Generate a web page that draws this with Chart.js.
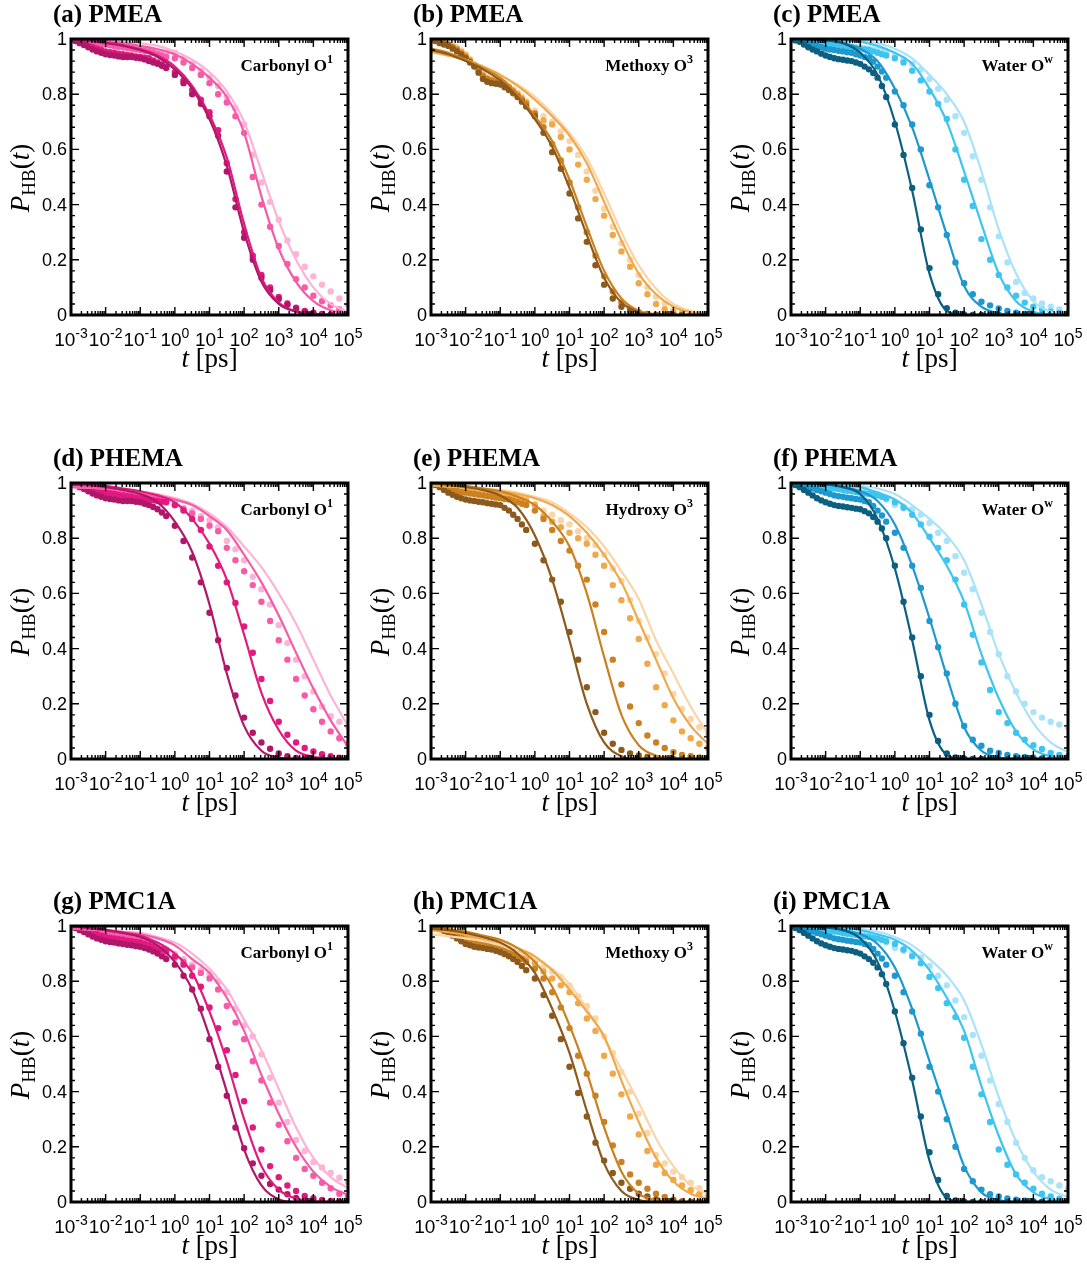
<!DOCTYPE html>
<html>
<head>
<meta charset="utf-8">
<script src="https://cdn.jsdelivr.net/npm/chart.js@4.4.0/dist/chart.umd.min.js"></script>
<style>
  html, body { margin: 0; padding: 0; background: #fff; overflow: hidden; }
  #grid { position: relative; width: 1087px; height: 1268px; }
  #grid canvas { position: absolute; }
</style>
</head>
<body>
<div id="grid"></div>
<script>
// log10(t): simulated points (denser at short times) and fitted curves
const logTDots = [-3, -2.875, -2.75, -2.625, -2.5, -2.375, -2.25, -2.125, -2, -1.875, -1.75, -1.625, -1.5, -1.375, -1.25, -1.125, -1, -0.875, -0.75, -0.625, -0.5, -0.375, -0.25,
  0, 0.25, 0.5, 0.75, 1, 1.25, 1.5, 1.75, 2, 2.25, 2.5, 2.75, 3, 3.25, 3.5, 3.75, 4, 4.25, 4.5, 4.75, 5];
const logTFit = [-3, -2.5, -2, -1.5, -1, -0.5, 0, 0.5, 1, 1.5, 2, 2.5, 3, 3.5, 4, 4.5, 5];

const xTickExps = [-3, -2, -1, 0, 1, 2, 3, 4, 5];
const yTickLabels = ['0', '0.2', '0.4', '0.6', '0.8', '1'];

const panelTitles = ['(a) PMEA', '(b) PMEA', '(c) PMEA', '(d) PHEMA', '(e) PHEMA', '(f) PHEMA', '(g) PMC1A', '(h) PMC1A', '(i) PMC1A'];
const siteNames = ['Carbonyl O', 'Methoxy O', 'Water O', 'Carbonyl O', 'Hydroxy O', 'Water O', 'Carbonyl O', 'Methoxy O', 'Water O'];
const siteSups = ['1', '3', 'w', '1', '3', 'w', '1', '3', 'w'];

const pink = ['#b0176a', '#e2197f', '#f75aa8', '#fcb3d6'];
const orange = ['#8c5a1c', '#cc8120', '#f0a848', '#f9d5a8'];
const blue = ['#0c5f80', '#1d99cf', '#3ec4f0', '#a9e3f9'];

// (a) PMEA carbonyl
const dotsA = [
  [1, .993, .985, .978, .97, .962, .955, .95, .945, .942, .94, .937, .935, .935, .935, .932, .93, .926, .92, .915, .91, .903, .895,
   .87, .84, .80, .765, .72, .65, .52, .39, .28, .2, .135, .09, .058, .037, .022, .012, .006, .003, .001, 0, 0],
  [1, .995, .99, .982, .975, .97, .965, .96, .955, .952, .95, .947, .945, .942, .94, .937, .935, .933, .93, .922, .915, .908, .9,
   .88, .85, .815, .78, .735, .67, .55, .42, .3, .215, .145, .1, .065, .042, .026, .015, .008, .004, .002, 0, 0],
  [1, .998, .995, .992, .99, .987, .985, .982, .98, .977, .975, .972, .97, .967, .965, .962, .96, .957, .955, .95, .945, .94, .935,
   .93, .915, .895, .87, .84, .8, .77, .72, .66, .5, .4, .32, .25, .185, .13, .1, .07, .05, .035, .02, .008],
  [1, .998, .995, .992, .99, .987, .985, .982, .98, .977, .975, .972, .97, .97, .97, .967, .965, .962, .96, .957, .955, .952, .95,
   .95, .93, .91, .885, .86, .83, .79, .75, .69, .58, .48, .41, .345, .27, .22, .175, .14, .11, .085, .06, .035]
];
const fitA = [
  [1, .995, .985, .975, .96, .935, .89, .82, .71, .54, .30, .12, .04, .012, .003, 0, 0],
  [1, .995, .987, .978, .963, .94, .9, .83, .725, .57, .33, .135, .045, .013, .003, 0, 0],
  [1, .998, .993, .985, .975, .963, .945, .91, .86, .79, .66, .43, .24, .12, .05, .017, .005],
  [1, .998, .995, .99, .985, .975, .955, .925, .88, .81, .7, .52, .34, .2, .1, .04, .012]
];

// (b) PMEA methoxy
const dotsB = [
  [1, .993, .985, .98, .975, .965, .955, .943, .93, .915, .9, .878, .855, .845, .84, .838, .835, .825, .815, .803, .79, .773, .755,
   .72, .66, .59, .53, .44, .35, .265, .18, .11, .06, .03, .014, .006, .002, 0, 0, 0, 0, 0, 0, 0],
  [1, .995, .99, .985, .98, .97, .96, .948, .935, .92, .905, .885, .865, .855, .85, .845, .84, .83, .82, .808, .795, .78, .765,
   .73, .68, .62, .56, .48, .39, .3, .215, .14, .085, .045, .022, .01, .004, .001, 0, 0, 0, 0, 0, 0],
  [1, .995, .99, .985, .98, .973, .965, .953, .94, .923, .905, .888, .87, .857, .85, .848, .845, .835, .825, .813, .8, .785, .77,
   .73, .705, .69, .645, .6, .545, .49, .42, .36, .29, .23, .175, .115, .075, .04, .02, .01, .005, .002, 0, 0],
  [1, .995, .99, .985, .98, .975, .97, .958, .945, .928, .91, .893, .875, .862, .855, .853, .85, .84, .83, .818, .805, .79, .775,
   .74, .72, .7, .665, .63, .58, .52, .45, .385, .32, .26, .2, .145, .1, .065, .04, .022, .012, .006, .003, .001]
];
const fitB = [
  [.96, .945, .92, .89, .85, .79, .71, .61, .46, .29, .135, .045, .01, .002, 0, 0, 0],
  [.965, .95, .925, .895, .86, .8, .72, .63, .49, .32, .16, .06, .015, .003, 0, 0, 0],
  [.955, .94, .925, .9, .87, .83, .78, .72, .65, .55, .41, .27, .15, .075, .03, .01, .003],
  [.95, .94, .925, .9, .87, .835, .79, .73, .66, .57, .44, .3, .18, .095, .04, .015, .005]
];

// (c) PMEA water
const dotsC = [
  [1, .995, .99, .98, .97, .962, .955, .947, .94, .935, .93, .927, .925, .922, .92, .915, .91, .9, .89, .877, .86, .83, .79,
   .69, .58, .46, .31, .17, .075, .025, .008, .002, 0, 0, 0, 0, 0, 0, 0, 0, 0, 0, 0, 0],
  [1, .998, .995, .99, .985, .98, .975, .97, .965, .962, .96, .957, .955, .952, .95, .945, .94, .935, .93, .918, .9, .882, .86,
   .81, .76, .69, .6, .47, .39, .29, .19, .115, .075, .048, .035, .024, .015, .008, .004, .002, 0, 0, 0, 0],
  [1, .999, .998, .997, .995, .993, .99, .988, .985, .982, .98, .978, .975, .972, .97, .967, .965, .962, .96, .955, .95, .945, .94,
   .93, .915, .885, .85, .81, .765, .71, .6, .49, .395, .275, .2, .145, .1, .07, .045, .03, .02, .012, .007, .004],
  [1, .999, .998, .997, .996, .995, .994, .992, .99, .988, .985, .982, .98, .978, .975, .972, .97, .967, .965, .962, .96, .955, .95,
   .94, .925, .91, .89, .855, .82, .78, .72, .66, .575, .49, .39, .285, .19, .12, .08, .06, .042, .03, .02, .01]
];
const fitC = [
  [1, .998, .995, .985, .95, .87, .7, .45, .15, .015, 0, 0, 0, 0, 0, 0, 0],
  [1, .998, .995, .985, .965, .92, .82, .68, .49, .29, .105, .03, .006, 0, 0, 0, 0],
  [1, .999, .998, .995, .99, .975, .95, .91, .82, .7, .52, .33, .15, .05, .012, .002, 0],
  [1, .999, .998, .997, .995, .985, .965, .93, .87, .8, .7, .52, .31, .15, .05, .012, .002]
];

// (d) PHEMA carbonyl
const dotsD = [
  [1, .993, .985, .978, .97, .962, .955, .95, .945, .942, .94, .937, .935, .935, .935, .932, .93, .925, .92, .913, .905, .893, .88,
   .845, .79, .73, .64, .53, .43, .33, .23, .15, .095, .06, .037, .02, .01, .004, .001, 0, 0, 0, 0, 0],
  [1, .995, .99, .985, .98, .975, .97, .967, .965, .962, .96, .957, .955, .952, .95, .947, .945, .942, .94, .937, .935, .932, .93,
   .92, .9, .87, .83, .77, .7, .64, .565, .48, .385, .29, .21, .135, .088, .06, .04, .027, .017, .01, .005, .002],
  [1, .998, .995, .992, .99, .987, .985, .982, .98, .977, .975, .972, .97, .967, .965, .962, .96, .957, .955, .95, .945, .94, .935,
   .92, .905, .89, .87, .845, .825, .765, .72, .68, .63, .57, .5, .43, .36, .29, .23, .18, .135, .1, .075, .055],
  [1, .998, .995, .992, .99, .987, .985, .982, .98, .977, .975, .972, .97, .967, .965, .962, .96, .957, .955, .952, .95, .945, .94,
   .93, .91, .9, .88, .865, .84, .79, .76, .72, .66, .615, .56, .485, .42, .36, .3, .245, .19, .155, .135, .117]
];
const fitD = [
  [1, .993, .985, .975, .96, .93, .86, .75, .56, .31, .12, .03, .005, 0, 0, 0, 0],
  [1, .995, .99, .98, .97, .955, .93, .87, .78, .65, .45, .24, .105, .03, .008, .002, 0],
  [.985, .983, .98, .975, .965, .955, .94, .92, .88, .83, .74, .64, .52, .385, .255, .14, .045],
  [.985, .983, .98, .975, .97, .96, .945, .925, .89, .84, .77, .695, .6, .49, .36, .23, .12]
];

// (e) PHEMA hydroxy
const dotsE = [
  [1, .993, .985, .975, .965, .957, .95, .945, .94, .937, .935, .932, .93, .927, .925, .922, .92, .91, .9, .885, .87, .85, .83,
   .78, .72, .65, .57, .46, .36, .26, .17, .095, .055, .033, .02, .013, .007, .003, 0, 0, 0, 0, 0, 0],
  [1, .995, .99, .985, .98, .975, .97, .967, .965, .962, .96, .957, .955, .952, .95, .947, .945, .942, .94, .935, .93, .925, .92,
   .9, .87, .83, .79, .755, .7, .65, .56, .46, .36, .27, .19, .13, .085, .06, .04, .025, .015, .01, .006, .004],
  [1, .998, .995, .992, .99, .987, .985, .982, .98, .977, .975, .972, .97, .967, .965, .962, .96, .957, .955, .95, .945, .94, .935,
   .92, .88, .86, .84, .82, .8, .78, .74, .7, .63, .575, .51, .435, .345, .26, .195, .14, .1, .075, .055, .04],
  [1, .998, .995, .992, .99, .987, .985, .982, .98, .977, .975, .972, .97, .967, .965, .962, .96, .957, .955, .952, .95, .945, .94,
   .925, .9, .885, .865, .85, .825, .8, .775, .74, .69, .645, .575, .5, .44, .38, .31, .235, .18, .145, .115, .09]
];
const fitE = [
  [1, .993, .985, .975, .955, .91, .81, .65, .43, .2, .06, .01, 0, 0, 0, 0, 0],
  [1, .995, .99, .98, .97, .95, .92, .86, .77, .6, .37, .16, .05, .012, .002, 0, 0],
  [.99, .988, .985, .98, .97, .96, .945, .92, .88, .82, .74, .64, .5, .36, .22, .12, .055],
  [.99, .988, .985, .98, .975, .965, .95, .93, .89, .84, .77, .68, .58, .43, .31, .19, .09]
];

// (f) PHEMA water
const dotsF = [
  [1, .993, .985, .975, .965, .955, .945, .937, .93, .925, .92, .917, .915, .912, .91, .907, .905, .898, .89, .877, .86, .835, .8,
   .7, .57, .44, .3, .16, .065, .02, .006, .002, 0, 0, 0, 0, 0, 0, 0, 0, 0, 0, 0, 0],
  [1, .998, .995, .99, .985, .98, .975, .97, .965, .96, .955, .952, .95, .947, .945, .942, .94, .935, .93, .917, .9, .882, .86,
   .82, .765, .7, .62, .5, .405, .31, .2, .12, .07, .048, .03, .022, .015, .01, .007, .005, .003, .002, .001, 0],
  [1, .999, .998, .997, .995, .993, .99, .988, .985, .982, .98, .978, .975, .972, .97, .967, .965, .962, .96, .957, .955, .95, .945,
   .93, .91, .885, .85, .805, .765, .72, .65, .56, .45, .35, .25, .17, .13, .095, .07, .05, .036, .022, .015, .01],
  [1, .999, .998, .997, .996, .995, .994, .992, .99, .988, .985, .982, .98, .978, .975, .972, .97, .967, .965, .962, .96, .95, .94,
   .92, .915, .905, .885, .855, .82, .79, .735, .675, .615, .53, .46, .38, .3, .245, .2, .17, .15, .135, .125, .115]
];
const fitF = [
  [1, .998, .995, .985, .96, .87, .69, .43, .14, .015, 0, 0, 0, 0, 0, 0, 0],
  [1, .998, .995, .985, .97, .935, .85, .7, .51, .3, .115, .03, .006, 0, 0, 0, 0],
  [1, .999, .995, .99, .985, .965, .94, .89, .8, .7, .57, .38, .22, .1, .035, .01, .002],
  [1, .999, .998, .995, .99, .98, .96, .92, .87, .81, .72, .56, .38, .24, .13, .06, .025]
];

// (g) PMC1A carbonyl
const dotsG = [
  [1, .993, .985, .978, .97, .962, .955, .95, .945, .942, .94, .937, .935, .932, .93, .927, .925, .92, .915, .908, .9, .89, .88,
   .86, .82, .77, .7, .59, .49, .385, .27, .195, .14, .095, .065, .045, .028, .015, .008, .005, .002, .001, 0, 0],
  [1, .995, .99, .985, .98, .975, .97, .965, .96, .957, .955, .952, .95, .947, .945, .942, .94, .935, .93, .925, .92, .915, .91,
   .89, .86, .82, .78, .705, .63, .55, .46, .365, .27, .19, .13, .09, .06, .04, .022, .014, .007, .004, .002, .001],
  [1, .998, .995, .992, .99, .987, .985, .98, .975, .972, .97, .967, .965, .96, .955, .95, .945, .94, .935, .928, .92, .91, .9,
   .885, .87, .85, .83, .81, .77, .71, .65, .59, .51, .44, .36, .28, .22, .16, .12, .095, .07, .05, .03, .02],
  [1, .998, .995, .992, .99, .987, .985, .982, .98, .977, .975, .972, .97, .965, .96, .955, .95, .945, .94, .935, .93, .922, .915,
   .9, .88, .86, .84, .825, .8, .76, .7, .64, .6, .535, .45, .36, .29, .225, .185, .145, .125, .105, .088, .072]
];
const fitG = [
  [1, .993, .985, .975, .96, .93, .87, .77, .6, .4, .19, .06, .01, 0, 0, 0, 0],
  [1, .993, .985, .975, .965, .94, .9, .83, .69, .51, .3, .13, .045, .012, .002, 0, 0],
  [.99, .988, .985, .978, .97, .955, .93, .88, .83, .74, .62, .46, .32, .2, .11, .055, .025],
  [.99, .988, .985, .98, .975, .96, .94, .9, .845, .77, .66, .55, .41, .27, .16, .09, .05]
];

// (h) PMC1A methoxy
const dotsH = [
  [1, .995, .99, .983, .975, .965, .955, .945, .935, .93, .925, .922, .92, .917, .915, .91, .905, .898, .89, .88, .87, .855, .84,
   .81, .75, .675, .59, .49, .395, .31, .215, .15, .105, .07, .048, .03, .02, .009, .004, .002, 0, 0, 0, 0],
  [1, .995, .99, .985, .98, .973, .965, .957, .95, .945, .94, .937, .935, .932, .93, .925, .92, .912, .905, .897, .89, .88, .87,
   .845, .81, .76, .705, .63, .53, .465, .385, .29, .205, .145, .1, .07, .048, .03, .018, .008, .003, .001, 0, 0],
  [1, .998, .995, .99, .985, .98, .975, .97, .965, .96, .955, .95, .945, .94, .935, .93, .925, .92, .915, .908, .9, .893, .885,
   .865, .835, .81, .785, .76, .72, .665, .62, .53, .465, .39, .31, .245, .185, .135, .105, .08, .06, .043, .028, .018],
  [.99, .988, .985, .98, .975, .97, .965, .96, .955, .95, .945, .94, .935, .93, .925, .92, .915, .91, .905, .9, .895, .888, .88,
   .87, .855, .835, .815, .785, .745, .71, .665, .6, .54, .47, .4, .32, .25, .17, .14, .11, .09, .07, .05, .03]
];
const fitH = [
  [.99, .985, .975, .96, .94, .9, .83, .7, .54, .33, .14, .04, .008, 0, 0, 0, 0],
  [.99, .985, .98, .965, .95, .92, .87, .78, .64, .47, .27, .11, .03, .007, 0, 0, 0],
  [.985, .978, .97, .96, .95, .92, .89, .84, .77, .69, .6, .44, .29, .16, .075, .03, .012],
  [.97, .963, .955, .945, .93, .905, .88, .845, .79, .7, .595, .48, .36, .23, .13, .06, .03]
];

// (i) PMC1A water
const dotsI = [
  [1, .993, .985, .975, .965, .955, .945, .937, .93, .925, .92, .917, .915, .912, .91, .905, .9, .89, .88, .867, .85, .825, .79,
   .69, .575, .45, .31, .18, .08, .022, .006, .002, 0, 0, 0, 0, 0, 0, 0, 0, 0, 0, 0, 0],
  [1, .998, .995, .99, .985, .98, .975, .97, .965, .96, .955, .952, .95, .947, .945, .942, .94, .935, .93, .917, .9, .882, .86,
   .82, .76, .69, .61, .49, .4, .3, .2, .12, .075, .045, .028, .02, .013, .008, .005, .003, .001, 0, 0, 0],
  [1, .999, .998, .997, .995, .993, .99, .988, .985, .982, .98, .978, .975, .972, .97, .967, .965, .962, .96, .957, .955, .95, .945,
   .935, .915, .89, .865, .815, .775, .72, .67, .595, .49, .39, .29, .19, .135, .1, .07, .048, .03, .02, .012, .006],
  [1, .999, .998, .997, .996, .995, .994, .992, .99, .988, .985, .982, .98, .978, .975, .972, .97, .967, .965, .962, .96, .95, .94,
   .92, .91, .9, .885, .855, .82, .785, .73, .67, .605, .53, .44, .355, .29, .215, .16, .115, .09, .075, .06, .048]
];
const fitI = [
  [1, .998, .995, .985, .955, .87, .69, .44, .15, .015, 0, 0, 0, 0, 0, 0, 0],
  [1, .998, .995, .985, .97, .935, .85, .7, .51, .32, .13, .035, .007, 0, 0, 0, 0],
  [1, .999, .997, .993, .985, .97, .95, .91, .84, .74, .62, .42, .24, .1, .035, .01, .002],
  [1, .999, .998, .995, .99, .98, .96, .93, .88, .82, .73, .57, .38, .22, .11, .045, .018]
];

const panelDots = [dotsA, dotsB, dotsC, dotsD, dotsE, dotsF, dotsG, dotsH, dotsI];
const panelFits = [fitA, fitB, fitC, fitD, fitE, fitF, fitG, fitH, fitI];
const palettes = [pink, orange, blue, pink, orange, blue, pink, orange, blue];

const SANS = '"Liberation Sans", Arial, sans-serif';
const SERIF = '"Liberation Serif", "Times New Roman", serif';

// draws a row of text pieces with their own fonts and vertical offsets
function drawRuns(ctx, runs, x, y, align) {
  let total = 0;
  runs.forEach(r => { ctx.font = r.font; r.w = ctx.measureText(r.text).width; total += r.w; });
  let cx = align === 'center' ? x - total / 2 : align === 'right' ? x - total : x;
  ctx.textAlign = 'left';
  ctx.textBaseline = 'alphabetic';
  runs.forEach(r => {
    ctx.font = r.font;
    ctx.fillText(r.text, cx, y - (r.rise || 0));
    cx += r.w;
  });
}

const panelAxes = {
  id: 'panelAxes',
  afterDraw(chart, args, opts) {
    const { ctx, chartArea: a } = chart;
    const xs = chart.scales.x, ys = chart.scales.y;
    ctx.save();
    ctx.fillStyle = '#000';
    ctx.strokeStyle = '#000';

    // inward ticks on all four sides
    ctx.lineWidth = 1.4;
    ctx.beginPath();
    for (let k = 0; k <= 25; k++) {
      const py = ys.getPixelForValue(k * 0.04);
      const len = k % 5 === 0 ? 8 : 4;
      ctx.moveTo(a.left, py); ctx.lineTo(a.left + len, py);
      ctx.moveTo(a.right, py); ctx.lineTo(a.right - len, py);
    }
    xTickExps.forEach(e => {
      for (let m = 1; m <= 9; m++) {
        if (e === 5 && m > 1) break;
        const px = xs.getPixelForValue(m * Math.pow(10, e));
        const len = m === 1 ? 8 : 4;
        ctx.moveTo(px, a.bottom); ctx.lineTo(px, a.bottom - len);
        ctx.moveTo(px, a.top); ctx.lineTo(px, a.top + len);
      }
    });
    ctx.stroke();

    ctx.lineWidth = 3;
    ctx.strokeRect(a.left, a.top, a.right - a.left, a.bottom - a.top);

    // tick labels
    ctx.font = '18px ' + SANS;
    ctx.textAlign = 'right';
    ctx.textBaseline = 'middle';
    yTickLabels.forEach((lab, k) => {
      ctx.fillText(lab, a.left - 4, ys.getPixelForValue(k * 0.2) + 1);
    });
    xTickExps.forEach(e => {
      drawRuns(ctx, [
        { text: '10', font: '19px ' + SANS },
        { text: String(e), font: '14px ' + SANS, rise: 8 }
      ], xs.getPixelForValue(Math.pow(10, e)), a.bottom + 31, 'center');
    });

    // axis titles
    drawRuns(ctx, [
      { text: 't', font: 'italic 27px ' + SERIF },
      { text: ' [ps]', font: '27px ' + SERIF }
    ], (a.left + a.right) / 2, a.bottom + 52, 'center');

    ctx.save();
    ctx.translate(29, (a.top + a.bottom) / 2 + 1);
    ctx.rotate(-Math.PI / 2);
    drawRuns(ctx, [
      { text: 'P', font: 'italic 27px ' + SERIF },
      { text: 'HB', font: '19px ' + SERIF, rise: -6 },
      { text: '(', font: '27px ' + SERIF },
      { text: 't', font: 'italic 27px ' + SERIF },
      { text: ')', font: '27px ' + SERIF }
    ], 0, 0, 'center');
    ctx.restore();

    // panel title and site label
    drawRuns(ctx, [{ text: opts.title, font: 'bold 25px ' + SERIF }], 53, a.top - 17, 'left');
    drawRuns(ctx, [
      { text: opts.site, font: 'bold 17px ' + SERIF },
      { text: opts.sup, font: 'bold 12px ' + SERIF, rise: 8 }
    ], a.left + 262, a.top + 32, 'right');

    ctx.restore();
  }
};

const colX = [0, 360, 720];
const rowY = [0, 444, 887];
const grid = document.getElementById('grid');

panelTitles.forEach((title, p) => {
  const canvas = document.createElement('canvas');
  canvas.width = 380;
  canvas.height = 425;
  canvas.style.left = colX[p % 3] + 'px';
  canvas.style.top = rowY[Math.floor(p / 3)] + 'px';
  grid.appendChild(canvas);

  const colors = palettes[p];
  const fits = panelFits[p].map((vals, s) => ({
    data: vals.map((y, i) => ({ x: Math.pow(10, logTFit[i]), y })),
    borderColor: colors[s],
    borderWidth: 2.2,
    pointRadius: 0,
    cubicInterpolationMode: 'monotone',
    fill: false,
    order: 0
  }));
  const dots = panelDots[p].map((vals, s) => ({
    data: vals.map((y, i) => ({ x: Math.pow(10, logTDots[i]), y })),
    showLine: false,
    pointRadius: 3.2,
    pointBorderWidth: 0,
    pointBackgroundColor: colors[s],
    borderColor: colors[s],
    order: 1
  }));

  new Chart(canvas, {
    type: 'line',
    data: { datasets: fits.concat(dots) },
    options: {
      responsive: false,
      animation: false,
      devicePixelRatio: 1,
      layout: { padding: { left: 71, right: 32, top: 39, bottom: 110 } },
      scales: {
        x: { type: 'logarithmic', min: 1e-3, max: 1e5, display: false },
        y: { type: 'linear', min: 0, max: 1, display: false }
      },
      plugins: {
        legend: { display: false },
        tooltip: { enabled: false },
        panelAxes: { title, site: siteNames[p], sup: siteSups[p] }
      }
    },
    plugins: [panelAxes]
  });
});
</script>
</body>
</html>
